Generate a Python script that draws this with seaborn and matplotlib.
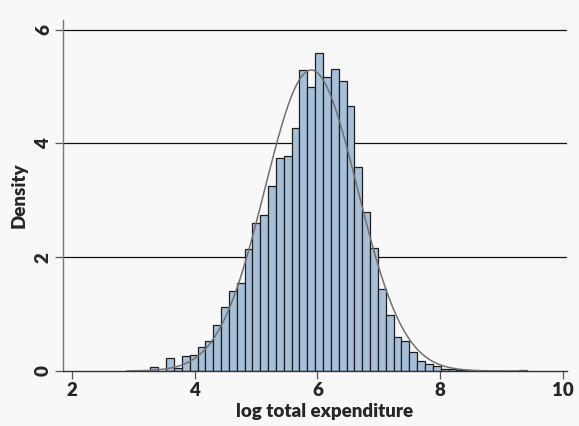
import numpy as np
import pandas as pd
import matplotlib
matplotlib.use("Agg")
import matplotlib.pyplot as plt
import seaborn as sns

# ---- data ----
bin_start = 2.895
bin_width = 0.1279
bar_heights = [0.0, 0.0, 0.0, 0.07, 0.0, 0.23, 0.06, 0.26, 0.28, 0.43,
               0.53, 0.80, 1.12, 1.40, 1.55, 2.14, 2.61, 2.75, 3.25, 3.74,
               3.78, 4.27, 5.29, 4.99, 5.59, 5.16, 5.30, 5.10, 4.66, 3.58,
               2.79, 2.16, 1.44, 0.98, 0.60, 0.53, 0.33, 0.18, 0.13, 0.09,
               0.035, 0.03, 0.02, 0.01, 0.0, 0.0, 0.0, 0.0, 0.0, 0.0, 0.02]
curve_mean = 5.90
curve_sd = 0.754
curve_scale = 10.0
x_ticks = [2, 4, 6, 8, 10]
y_ticks = [0, 2, 4, 6]
x_label = "log total expenditure"
y_label = "Density"

n_bins = len(bar_heights)
edges = bin_start + bin_width * np.arange(n_bins + 1)
centers = (edges[:-1] + edges[1:]) / 2
df = pd.DataFrame({"x": centers, "h": bar_heights})

xs = np.linspace(edges[0], edges[-1], 400)
ys = curve_scale * np.exp(-0.5 * ((xs - curve_mean) / curve_sd) ** 2) / (curve_sd * np.sqrt(2 * np.pi))
cdf = pd.DataFrame({"x": xs, "y": ys})

sns.set_style("white")
plt.rcParams["font.family"] = ["Lato", "DejaVu Sans"]

bg = "#f8f8f8"
fig = plt.figure(figsize=(5.79, 4.26), dpi=100, facecolor=bg)
ax = fig.add_axes([63 / 579, 55 / 426, (567 - 63) / 579, (371 - 20) / 426])
ax.set_facecolor(bg)

ax.set_xlim(2 + (63 - 72) / 61.34, 2 + (567 - 72) / 61.34)
ax.set_ylim(0, 6.17)

for yv in y_ticks[1:]:
    ax.axhline(yv, color="#111111", lw=0.9, zorder=0)

sns.histplot(data=df, x="x", weights="h", binwidth=bin_width,
             binrange=(float(edges[0]), float(edges[-1])), stat="count",
             color="#a7c0da", edgecolor="#1e1e1e", linewidth=0.9, alpha=1,
             ax=ax, zorder=2)
sns.lineplot(data=cdf, x="x", y="y", color="#707070", lw=1.1, ax=ax, zorder=3)

fs = 13.5
ax.set_xticks(x_ticks)
ax.set_yticks(y_ticks)
ax.set_xticklabels([str(t) for t in x_ticks], fontsize=fs, fontweight="heavy")
ax.set_yticklabels([str(t) for t in y_ticks], fontsize=fs, fontweight="heavy",
                   rotation=90, va="center")
ax.tick_params(axis="both", length=6, width=0.9, color="#555555", pad=2)
ax.tick_params(axis="x", direction="out", bottom=True)
ax.tick_params(axis="y", direction="out", left=True)

ax.set_xlabel(x_label, fontsize=fs, fontweight="heavy")
ax.xaxis.set_label_coords((325 - 63) / 504, -0.092)
ax.set_ylabel(y_label, fontsize=fs, fontweight="heavy", labelpad=5)

for s in ["top", "right"]:
    ax.spines[s].set_visible(False)
ax.spines["left"].set_color("#777777")
ax.spines["left"].set_linewidth(1.0)
ax.spines["bottom"].set_color("#333333")
ax.spines["bottom"].set_linewidth(1.0)

fig.savefig("out.png", dpi=100, facecolor=bg)
